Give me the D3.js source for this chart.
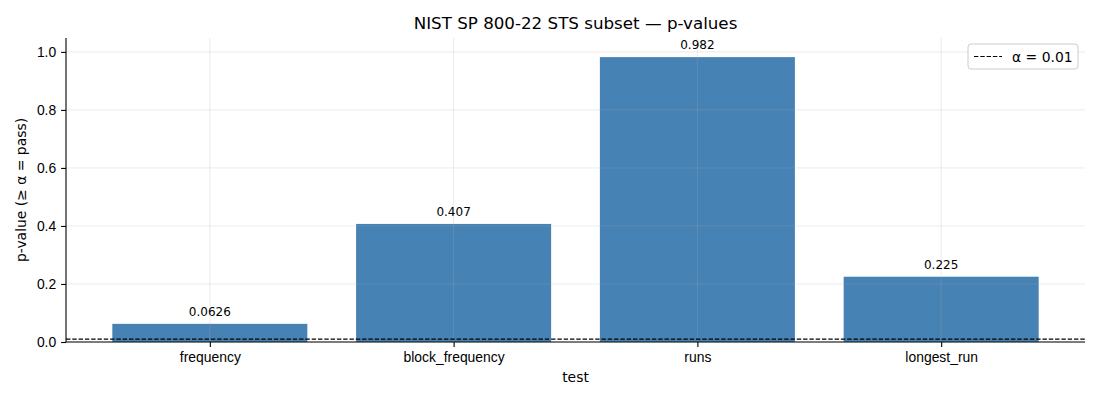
<!DOCTYPE html>
<html lang="en">
<head>
<meta charset="UTF-8">
<title>NIST SP 800-22 STS subset — p-values</title>
<script src="https://d3js.org/d3.v7.min.js"></script>
<style>
    body { margin: 0; background: #fff; }
    svg { font-family: "DejaVu Sans", sans-serif; }
    .tick text { font-size: 13.9px; fill: #000; }
</style>
</head>
<body>
<svg width="1100" height="400"></svg>
<script>
    // chart data
    const tests = ["frequency", "block_frequency", "runs", "longest_run"];
    const pValues = [0.0626, 0.407, 0.982, 0.225];
    const pLabels = ["0.0626", "0.407", "0.982", "0.225"];
    const alpha = 0.01;
    const yTicks = [0, 0.2, 0.4, 0.6, 0.8, 1.0];

    const svg = d3.select("svg");
    const margin = { top: 38, right: 15, bottom: 58, left: 66 };
    const width = 1100 - margin.left - margin.right;
    const height = 400 - margin.top - margin.bottom;
    const g = svg.append("g").attr("transform", `translate(${margin.left},${margin.top})`);

    // numeric x like matplotlib: bars at 0..n-1, width 0.8, 5% margins
    const n = tests.length;
    const pad = 0.05 * (n - 1 + 0.8);
    const x = d3.scaleLinear().domain([-0.4 - pad, n - 1 + 0.4 + pad]).range([0, width]);
    const y = d3.scaleLinear().domain([0, 1.0479]).range([height, 0]);

    // bars
    g.selectAll(".bar").data(pValues).join("rect")
        .attr("class", "bar")
        .attr("x", (d, i) => x(i - 0.4))
        .attr("width", x(0.8) - x(0))
        .attr("y", d => y(d))
        .attr("height", d => y(0) - y(d))
        .attr("fill", "#4682b4");

    // grid on top of bars
    const grid = g.append("g").attr("stroke", "#b0b0b0").attr("stroke-opacity", 0.3).attr("stroke-width", 0.8);
    grid.selectAll(".hg").data(yTicks).join("line")
        .attr("x1", 0).attr("x2", width)
        .attr("y1", d => y(d)).attr("y2", d => y(d));
    grid.selectAll(".vg").data(tests).join("line")
        .attr("x1", (d, i) => x(i)).attr("x2", (d, i) => x(i))
        .attr("y1", 0).attr("y2", height);

    // alpha line
    g.append("line")
        .attr("x1", 0).attr("x2", width)
        .attr("y1", y(alpha)).attr("y2", y(alpha))
        .attr("stroke", "#000").attr("stroke-width", 1.2)
        .attr("stroke-dasharray", "4.4,1.9");

    // value labels
    g.selectAll(".lbl").data(pValues).join("text")
        .attr("x", (d, i) => x(i))
        .attr("y", d => y(d) - 8)
        .attr("text-anchor", "middle")
        .attr("font-size", "12px")
        .text((d, i) => pLabels[i]);

    // axes
    const xAxis = d3.axisBottom(x).tickValues(d3.range(n)).tickFormat(i => tests[i]).tickSize(4.9).tickPadding(4.9);
    g.append("g").attr("transform", `translate(0,${height})`).call(xAxis)
        .call(a => a.select(".domain").attr("stroke-width", 1.1).attr("d", `M0,0H${width}`));
    const yAxis = d3.axisLeft(y).tickValues(yTicks).tickFormat(d3.format(".1f")).tickSize(4.9).tickPadding(4.9);
    g.append("g").call(yAxis)
        .call(a => a.select(".domain").attr("stroke-width", 1.1).attr("d", `M0,0V${height}`));
    g.selectAll(".tick line").attr("stroke-width", 1.1);

    // titles
    svg.append("text").attr("x", margin.left + width / 2).attr("y", 29)
        .attr("text-anchor", "middle").attr("font-size", "16.7px").text("NIST SP 800-22 STS subset — p-values");
    svg.append("text").attr("x", margin.left + width / 2).attr("y", 382)
        .attr("text-anchor", "middle").attr("font-size", "13.9px").text("test");
    svg.append("text").attr("transform", `translate(26,${margin.top + height / 2}) rotate(-90)`)
        .attr("text-anchor", "middle").attr("font-size", "13.9px").text("p-value (≥ α = pass)");

    // legend
    const lg = svg.append("g").attr("transform", "translate(968,44)");
    lg.append("rect").attr("width", 110).attr("height", 25).attr("rx", 3)
        .attr("fill", "#fff").attr("fill-opacity", 0.8).attr("stroke", "#ccc");
    lg.append("line").attr("x1", 6).attr("x2", 34).attr("y1", 12.5).attr("y2", 12.5)
        .attr("stroke", "#000").attr("stroke-width", 1.2).attr("stroke-dasharray", "4.4,1.9");
    lg.append("text").attr("x", 44).attr("y", 17.5).attr("font-size", "13.9px").text("α = 0.01");
</script>
</body>
</html>
